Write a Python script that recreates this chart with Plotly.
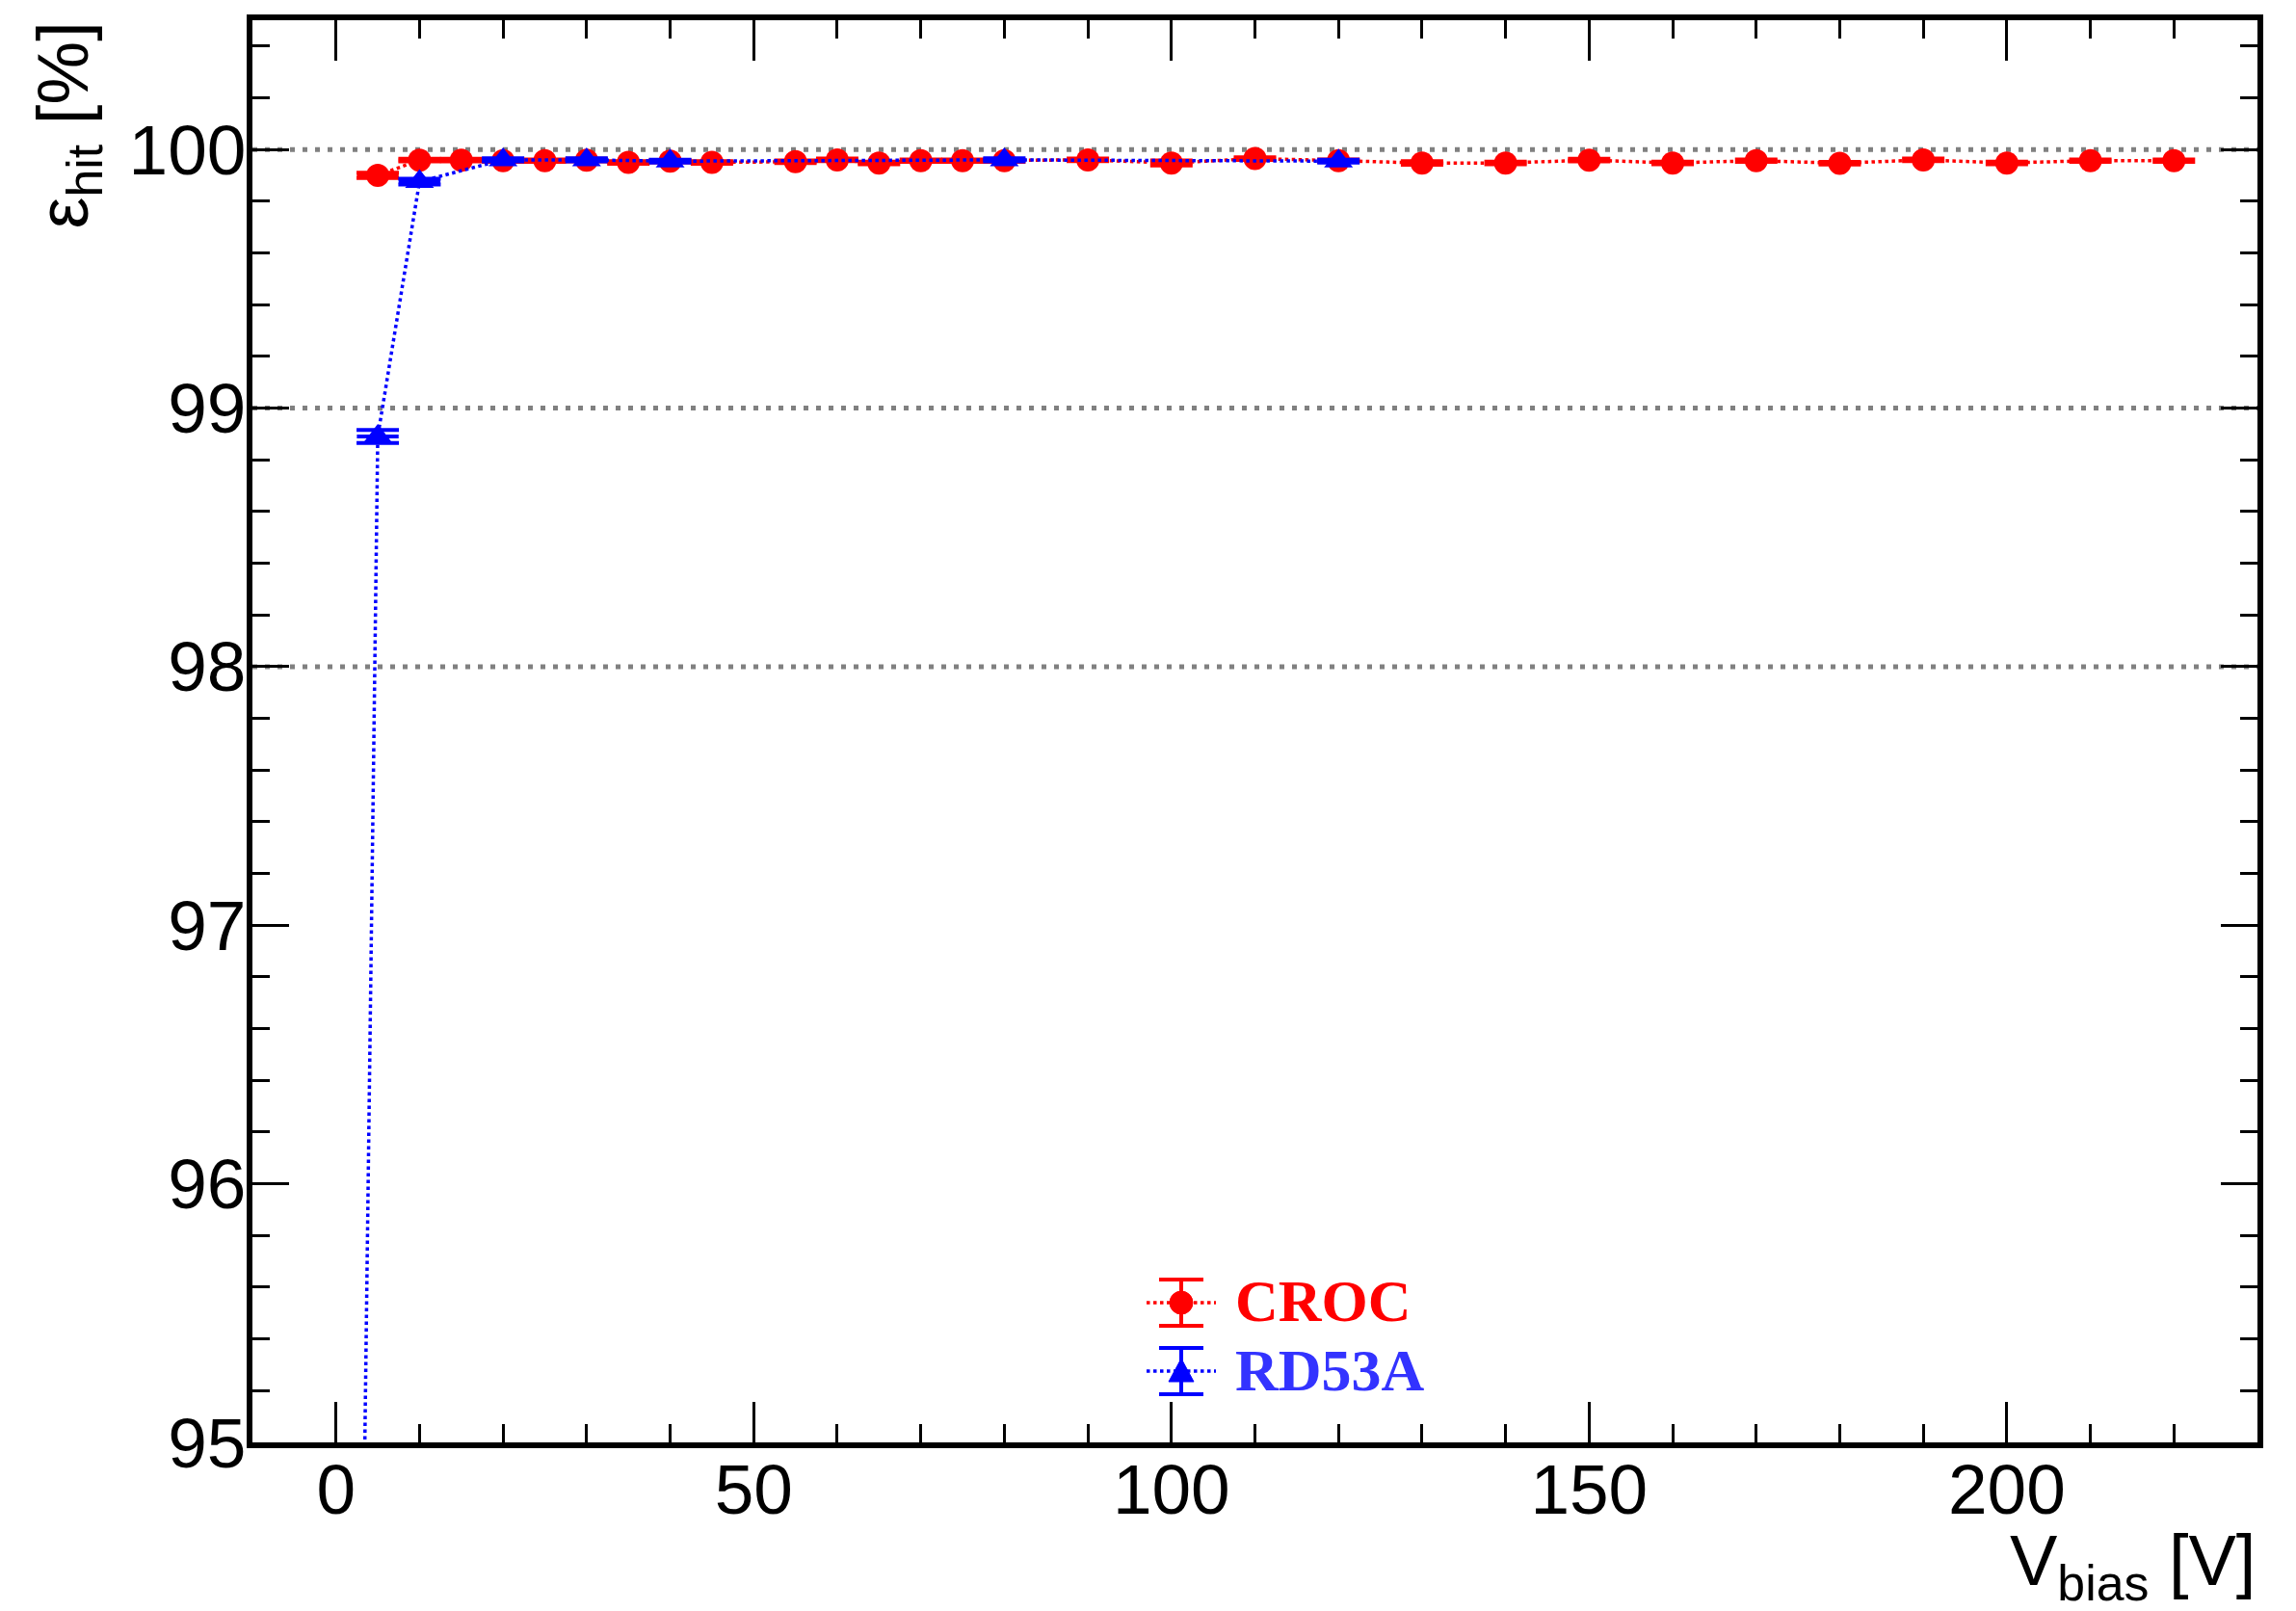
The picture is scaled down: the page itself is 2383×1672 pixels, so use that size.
import plotly.graph_objects as go

# ---------------- data ----------------
croc_v = [5, 10, 15, 20, 25, 30, 35, 40, 45, 55, 60, 65, 70, 75, 80, 90, 100,
          110, 120, 130, 140, 150, 160, 170, 180, 190, 200, 210, 220]
croc_eff = [99.900, 99.959, 99.959, 99.957, 99.957, 99.959, 99.950, 99.955, 99.950,
            99.953, 99.960, 99.948, 99.957, 99.957, 99.957, 99.960, 99.948,
            99.965, 99.957, 99.948, 99.948, 99.959, 99.948, 99.957, 99.947,
            99.960, 99.948, 99.957, 99.957]
croc_err = [0.010, 0.005, 0.005, 0.005, 0.005, 0.005, 0.005, 0.005, 0.005,
            0.005, 0.005, 0.005, 0.005, 0.005, 0.005, 0.005, 0.010,
            0.005, 0.005, 0.007, 0.005, 0.005, 0.005, 0.005, 0.005,
            0.005, 0.005, 0.005, 0.005]

rd53a_v = [0, 5, 10, 20, 30, 40, 80, 120]
rd53a_eff = [86.3, 98.89, 99.876, 99.960, 99.960, 99.955, 99.960, 99.955]
rd53a_err = [0.05, 0.025, 0.011, 0.006, 0.006, 0.006, 0.006, 0.006]

v_err = 2.5
x_ticks = [0, 50, 100, 150, 200]
y_ticks = [95, 96, 97, 98, 99, 100]
grid_levels = [98, 99, 100]

# ---------------- layout geometry (pixels) ----------------
W, H = 2383, 1672
L, R, T, B = 262, 2343, 21, 1497


def px(x):
    return (x - L) / (R - L)


def py(y):
    return (B - y) / (B - T)


RED = "#ff0000"
BLUE = "#0000ff"

fig = go.Figure()

fig.add_trace(go.Scatter(
    x=croc_v, y=croc_eff, mode="lines+markers", name="CROC",
    line=dict(color=RED, width=3.5, dash="dot"),
    marker=dict(symbol="circle", size=24, color=RED),
    error_y=dict(type="data", array=croc_err, color=RED, thickness=4, width=22),
    error_x=dict(type="constant", value=v_err, color=RED, thickness=4, width=0),
    showlegend=False, cliponaxis=True,
))
fig.add_trace(go.Scatter(
    x=rd53a_v, y=rd53a_eff, mode="lines+markers", name="RD53A",
    line=dict(color=BLUE, width=3.5, dash="dot"),
    marker=dict(symbol="triangle-up", size=26, color=BLUE),
    error_y=dict(type="data", array=rd53a_err, color=BLUE, thickness=4, width=22),
    error_x=dict(type="constant", value=v_err, color=BLUE, thickness=4, width=0),
    showlegend=False, cliponaxis=True,
))

shapes = []
for g in grid_levels:
    shapes.append(dict(type="line", xref="paper", yref="y", x0=0, x1=1, y0=g, y1=g,
                       line=dict(color="#808080", width=5, dash="5px,8px"), layer="below"))

# ---- manual legend glyphs ----
def legend_glyph(cx, cy, color, marker):
    s = []
    s.append(dict(type="line", xref="paper", yref="paper",
                  x0=px(cx - 36), x1=px(cx + 36), y0=py(cy), y1=py(cy),
                  line=dict(color=color, width=3.5, dash="dot")))
    s.append(dict(type="line", xref="paper", yref="paper",
                  x0=px(cx), x1=px(cx), y0=py(cy - 24), y1=py(cy + 24),
                  line=dict(color=color, width=4)))
    for dy in (-24, 24):
        s.append(dict(type="line", xref="paper", yref="paper",
                      x0=px(cx - 23), x1=px(cx + 23), y0=py(cy + dy), y1=py(cy + dy),
                      line=dict(color=color, width=4)))
    if marker == "circle":
        r = 12
        s.append(dict(type="circle", xref="paper", yref="paper",
                      x0=px(cx - r), x1=px(cx + r), y0=py(cy - r), y1=py(cy + r),
                      fillcolor=color, line=dict(color=color, width=1)))
    else:
        p = "M {} {} L {} {} L {} {} Z".format(
            px(cx), py(cy - 13), px(cx - 13), py(cy + 11), px(cx + 13), py(cy + 11))
        s.append(dict(type="path", xref="paper", yref="paper", path=p,
                      fillcolor=color, line=dict(color=color, width=1)))
    return s


shapes += legend_glyph(1226, 1352, RED, "circle")
shapes += legend_glyph(1226, 1423, BLUE, "triangle")

annotations = [
    dict(text="<b>CROC</b>", xref="paper", yref="paper", x=px(1280), y=py(1350),
         xanchor="left", yanchor="middle", showarrow=False,
         font=dict(family="Liberation Serif", size=62, color=RED)),
    dict(text="<b>RD53A</b>", xref="paper", yref="paper", x=px(1280), y=py(1422),
         xanchor="left", yanchor="middle", showarrow=False,
         font=dict(family="Liberation Serif", size=62, color="#3333ff")),
    dict(text="ε<sub>hit</sub> [%]", xref="paper", yref="paper", x=px(70), y=1.0,
         xanchor="center", yanchor="top", textangle=-90, showarrow=False,
         font=dict(family="Liberation Sans", size=74, color="black")),
    dict(text="V<sub>bias</sub> [V]", xref="paper", yref="paper", x=1.0, y=py(1674),
         xanchor="right", yanchor="bottom", showarrow=False,
         font=dict(family="Liberation Sans", size=74, color="black")),
]

fig.update_layout(
    width=W, height=H,
    margin=dict(l=L, r=W - R, t=T, b=H - B),
    paper_bgcolor="white", plot_bgcolor="white",
    shapes=shapes, annotations=annotations,
    font=dict(family="Liberation Sans", size=73, color="black"),
)

fig.update_xaxes(
    range=[-10, 230], tickvals=x_ticks, ticktext=[str(v) for v in x_ticks],
    ticks="inside", ticklen=42, tickwidth=3, tickcolor="black",
    minor=dict(dtick=10, tick0=0, ticks="inside", ticklen=19, tickwidth=3, tickcolor="black"),
    showline=True, linewidth=6, linecolor="black", mirror="ticks",
    showgrid=False, zeroline=False, ticklabelstandoff=-20,
    tickfont=dict(family="Liberation Sans", size=73),
)
fig.update_yaxes(
    range=[95, 100.5], tickvals=y_ticks, ticktext=[str(v) for v in y_ticks],
    ticks="inside", ticklen=38, tickwidth=3, tickcolor="black",
    minor=dict(dtick=0.2, tick0=95, ticks="inside", ticklen=18, tickwidth=3, tickcolor="black"),
    showline=True, linewidth=6, linecolor="black", mirror="ticks",
    showgrid=False, zeroline=False, ticklabelstandoff=-14,
    tickfont=dict(family="Liberation Sans", size=73),
)

fig.write_html("out.html")
